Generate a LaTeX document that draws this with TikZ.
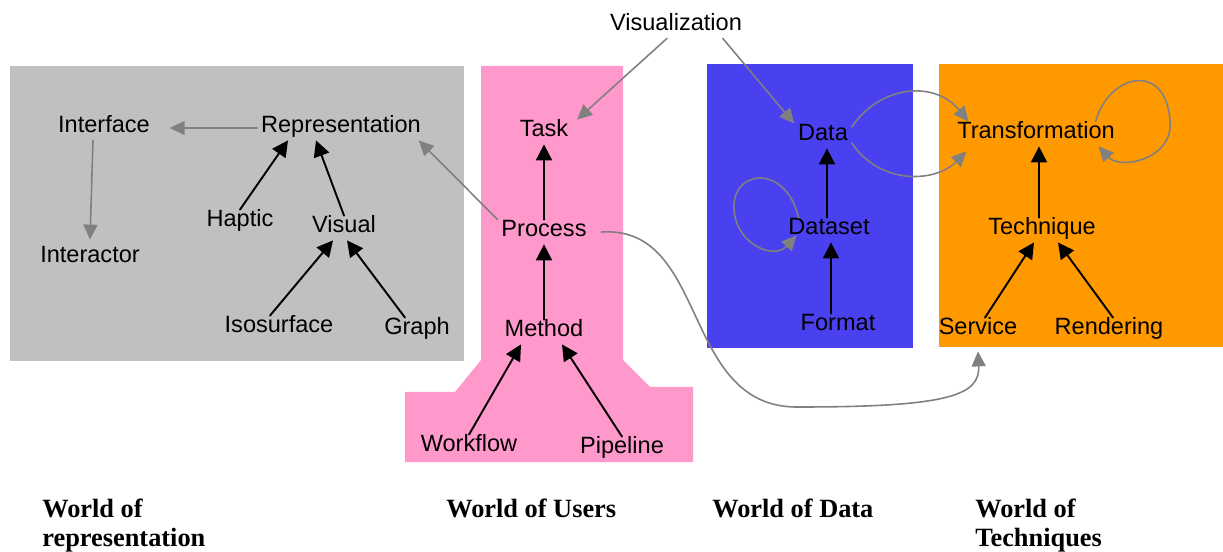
\documentclass[tikz,border=0pt]{standalone}
\usepackage{fontspec}
\setmainfont{Liberation Sans}
\newfontfamily\worldfont{Liberation Serif}
\usetikzlibrary{arrows.meta}
\definecolor{reprgray}{HTML}{C0C0C0}
\definecolor{userpink}{HTML}{FF99CC}
\definecolor{datablue}{HTML}{4940F0}
\definecolor{techorange}{HTML}{FF9900}
\definecolor{linkgray}{HTML}{808080}
\begin{document}
\begin{tikzpicture}[line cap=round,
  lbl/.style={inner sep=2pt, yshift=-0.08cm, font=\fontsize{13.4}{15}\selectfont, text height=0.75em, text depth=0.22em},
  blk/.style={line width=1.1pt, -{Triangle[length=0.32cm,width=0.32cm]}},
  gry/.style={line width=0.9pt, linkgray, -{Triangle[length=0.3cm,width=0.28cm]}},
  world/.style={anchor=north west, align=left, inner sep=0pt, font=\worldfont\bfseries\fontsize{15}{16.5}\selectfont}]
  \useasboundingbox (0,0) rectangle (24.46,-11.04);

  % the four worlds
  \fill[reprgray] (0.20,-1.32) rectangle (9.28,-7.22);
  \fill[userpink] (9.62,-1.32) -- (12.46,-1.32) -- (12.46,-7.20) -- (13.00,-7.74) -- (13.86,-7.74)
    -- (13.86,-9.24) -- (8.10,-9.24) -- (8.10,-7.84) -- (9.10,-7.84) -- (9.62,-7.20) -- cycle;
  \fill[datablue] (14.14,-1.28) rectangle (18.26,-6.96);
  \fill[techorange] (18.78,-1.28) rectangle (24.46,-6.94);

  % concepts
  \node[lbl] (interface) at (2.08,-2.48) {Interface};
  \node[lbl] (repr) at (6.82,-2.48) {Representation};
  \node[lbl] (interactor) at (1.80,-5.08) {Interactor};
  \node[lbl] (haptic) at (4.80,-4.36) {Haptic};
  \node[lbl] (visual) at (6.88,-4.48) {Visual};
  \node[lbl] (isosurf) at (5.58,-6.48) {Isosurface};
  \node[lbl] (graph) at (8.34,-6.52) {Graph};
  \node[lbl] (task) at (10.88,-2.56) {Task};
  \node[lbl] (process) at (10.88,-4.56) {Process};
  \node[lbl] (method) at (10.88,-6.56) {Method};
  \node[lbl] (workflow) at (9.38,-8.86) {Workflow};
  \node[lbl] (pipeline) at (12.44,-8.90) {Pipeline};
  \node[lbl] (visu) at (13.52,-0.44) {Visualization};
  \node[lbl] (data) at (16.46,-2.64) {Data};
  \node[lbl] (dataset) at (16.58,-4.52) {Dataset};
  \node[lbl] (format) at (16.76,-6.44) {Format};
  \node[lbl] (transf) at (20.72,-2.60) {Transformation};
  \node[lbl] (technique) at (20.84,-4.52) {Technique};
  \node[lbl] (service) at (19.56,-6.52) {Service};
  \node[lbl] (rendering) at (22.18,-6.52) {Rendering};

  % world captions
  \node[world] (wrepr) at (0.84,-9.98) {World of\\representation};
  \node[world] (wusers) at (8.92,-9.98) {World of Users};
  \node[world] (wdata) at (14.24,-9.98) {World of Data};
  \node[world] (wtech) at (19.50,-9.98) {World of\\Techniques};

  % specialisation links
  \draw[blk] (haptic.north) -- ([xshift=-1.06cm]repr.south);
  \draw[blk] (visual.north) -- ([xshift=-0.5cm]repr.south);
  \draw[blk] ([xshift=-0.18cm]isosurf.north) -- ([xshift=-0.22cm]visual.south);
  \draw[blk] ([xshift=-0.24cm]graph.north) -- ([xshift=0.06cm]visual.south);
  \draw[blk] (process) -- (task);
  \draw[blk] (method) -- (process);
  \draw[blk] (workflow.north) -- ([xshift=-0.46cm]method.south);
  \draw[blk] (pipeline.north) -- ([xshift=0.36cm]method.south);
  \draw[blk] ([xshift=-0.04cm]dataset.north) -- ([xshift=0.08cm]data.south);
  \draw[blk] ([xshift=-0.14cm]format.north) -- ([xshift=0.04cm]dataset.south);
  \draw[blk] ([xshift=-0.06cm]technique.north) -- ([xshift=0.06cm]transf.south);
  \draw[blk] ([xshift=0.14cm]service.north) -- ([xshift=-0.16cm]technique.south);
  \draw[blk] ([xshift=0.08cm]rendering.north) -- ([xshift=0.32cm]technique.south);

  % other relations
  \draw[gry] (repr.west) -- ([xshift=0.32cm]interface.east);
  \draw[gry] ([xshift=-0.22cm]interface.south) -- ([yshift=0.12cm]interactor.north);
  \draw[gry] (process.north west) -- ([xshift=-0.12cm]repr.south east);
  \draw[gry] ([xshift=-0.18cm]visu.south) -- ([xshift=0.1cm]task.north east);
  \draw[gry] ([xshift=-0.46cm]visu.south east) -- (data.north west);
  \draw[gry] ([yshift=0.18cm]data.east) .. controls (17.6,-1.7) and (18.7,-1.6) .. ([xshift=0.3cm]transf.north west);
  \draw[gry] ([yshift=-0.14cm]data.east) .. controls (17.6,-3.7) and (18.7,-3.66) .. ([xshift=0.26cm,yshift=-0.1cm]transf.south west);
  \draw[gry] ([xshift=0.28cm]dataset.north west) .. controls (15.7,-3.2) and (14.5,-3.4) .. (14.7,-4.34)
    .. controls (14.84,-4.94) and (15.5,-5.18) .. ([xshift=0.24cm,yshift=0.14cm]dataset.south west);
  \draw[gry] ([xshift=-0.46cm]transf.north east) .. controls (22.16,-1.5) and (23.3,-1.2) .. (23.4,-2.4)
    .. controls (23.48,-3.2) and (22.4,-3.4) .. ([xshift=-0.4cm]transf.south east);
  \draw[gry] ([xshift=0.22cm]process.east) .. controls (14.2,-4.5) and (13.6,-8.2) .. (16.0,-8.14)
    .. controls (19.0,-8.14) and (19.6,-7.9) .. ([yshift=-0.18cm]service.south);
\end{tikzpicture}
\end{document}
